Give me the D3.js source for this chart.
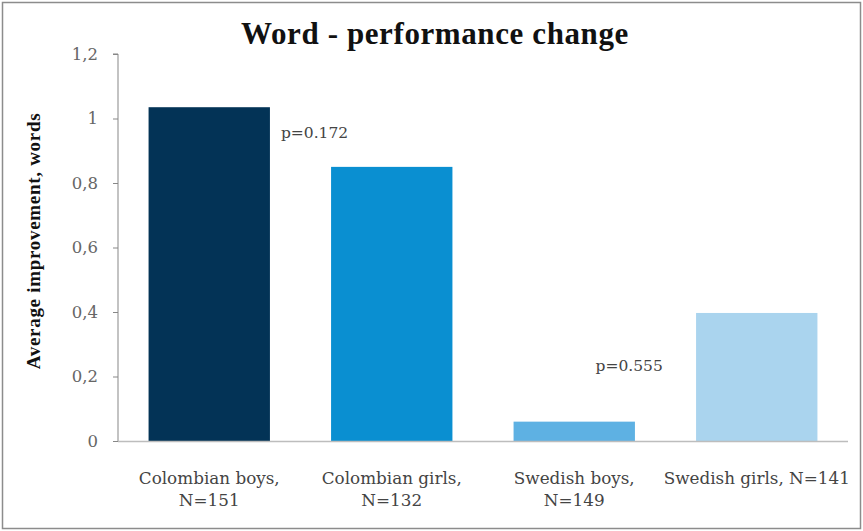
<!DOCTYPE html>
<html><head><meta charset="utf-8">
<script src="https://cdn.jsdelivr.net/npm/d3@7"></script>
<style>body{margin:0;background:#fff}svg{display:block}</style>
</head><body>
<script>
const categories = [["Colombian boys,","N=151"],["Colombian girls,","N=132"],["Swedish boys,","N=149"],["Swedish girls, N=141"]];
const values = [1.035, 0.85, 0.06, 0.397];
const colors = ["#033356","#0A8FD1","#5EB1E3","#AAD4EE"];
const yTicks = [0,0.2,0.4,0.6,0.8,1,1.2];
const tickLabels = ["0","0,2","0,4","0,6","0,8","1","1,2"];
const pNotes = [{cat:0, y:0.955, text:"p=0.172"},{cat:2, y:0.233, text:"p=0.555"}];

const W=863,H=531;
const F="DejaVu Serif";
const svg=d3.select("body").append("svg").attr("width",W).attr("height",H);
svg.append("rect").attr("x",2.5).attr("y",2.5).attr("width",858).attr("height",526).attr("fill","#fff").attr("stroke","#8c8c8c").attr("stroke-width",1.5);

const m={l:118,r:15,t:54,b:90};
const x=d3.scaleBand().domain(d3.range(categories.length)).range([m.l,W-m.r]).paddingInner(0.335).paddingOuter(0.1675);
const y=d3.scaleLinear().domain([0,1.2]).range([441,54]);

svg.selectAll("rect.bar").data(values).join("rect").attr("class","bar")
 .attr("x",(d,i)=>x(i)).attr("width",x.bandwidth())
 .attr("y",d=>y(d)).attr("height",d=>y(0)-y(d)).attr("fill",(d,i)=>colors[i]);

const ya=svg.append("g").attr("transform",`translate(${m.l},0)`)
 .call(d3.axisLeft(y).tickValues(yTicks).tickFormat((d,i)=>tickLabels[i]).tickSize(5).tickPadding(15));
ya.select(".domain").attr("stroke","#878787").attr("d",`M-5,${y(1.2)}H0V${y(0)}`);
ya.selectAll(".tick line").attr("stroke","#878787");
ya.selectAll("text").attr("font-family",F).attr("font-size",16.5).attr("fill","#666");

svg.append("line").attr("x1",m.l).attr("x2",W-m.r).attr("y1",y(0)+0.5).attr("y2",y(0)+0.5).attr("stroke","#bdbdbd").attr("stroke-width",1.5);

const cl=svg.append("g");
categories.forEach((lines,i)=>{
  const t=cl.append("text").attr("x",x(i)+x.bandwidth()/2).attr("y",484).attr("text-anchor","middle")
   .attr("font-family",F).attr("font-size",16.8).attr("fill","#444");
  lines.forEach((s,j)=>t.append("tspan").attr("x",x(i)+x.bandwidth()/2).attr("dy",j?22:0).text(s));
});

pNotes.forEach(p=>{
  svg.append("text").attr("x",p.cat===0?x(p.cat)+x.bandwidth()+11:x(p.cat)+82).attr("y",y(p.y)+5)
   .attr("font-family",F).attr("font-size",15.5).attr("fill","#444").text(p.text);
});

svg.append("text").attr("x",435).attr("y",44).attr("text-anchor","middle")
 .attr("font-family","Liberation Serif").attr("font-weight","bold").attr("font-size",31).attr("letter-spacing",0.6).attr("fill","#111").text("Word - performance change");

svg.append("text").attr("transform",`translate(40,${241}) rotate(-90)`).attr("text-anchor","middle")
 .attr("font-family","Liberation Serif").attr("font-weight","bold").attr("font-size",19).attr("letter-spacing",0.7).attr("fill","#111").text("Average improvement, words");
</script>
</body></html>
